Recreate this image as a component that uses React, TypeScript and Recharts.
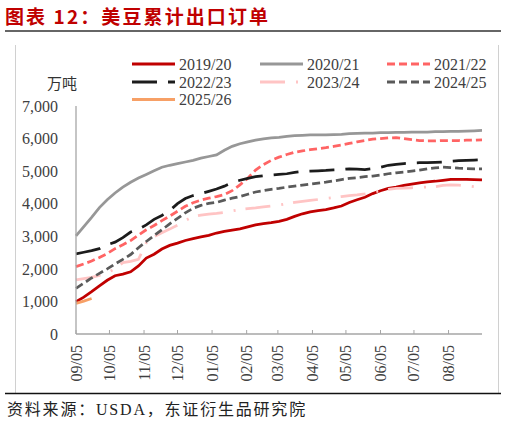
import React from 'react';
import { LineChart, Line, XAxis, YAxis } from 'recharts';

// ---- data ----
const days = [0, 7, 14, 21, 28, 35, 42, 49, 56, 63, 70, 77, 84, 91, 98, 105, 112, 119, 126, 133, 140, 147, 154, 161, 168, 175, 182, 189, 196, 203, 210, 217, 224, 231, 238, 245, 252, 259, 266, 273, 280, 287, 294, 301, 308, 315, 322, 329, 336, 343, 350, 357, 364];
const tickDays = [0, 30, 61, 91, 122, 153, 181, 212, 242, 273, 303, 334];
const tickLabels = ['09/05', '10/05', '11/05', '12/05', '01/05', '02/05', '03/05', '04/05', '05/05', '06/05', '07/05', '08/05'];
const yTicks = [0, 1000, 2000, 3000, 4000, 5000, 6000, 7000];

const seriesNames = ['2019/20', '2020/21', '2021/22', '2022/23', '2023/24', '2024/25', '2025/26'];

const v1920 = [990, 1130, 1300, 1480, 1650, 1790, 1840, 1910, 2090, 2330, 2450, 2610, 2720, 2790, 2870, 2930, 2980, 3030, 3100, 3150, 3190, 3230, 3290, 3350, 3390, 3420, 3460, 3520, 3610, 3690, 3750, 3790, 3820, 3870, 3930, 4040, 4120, 4200, 4310, 4400, 4470, 4510, 4560, 4600, 4640, 4670, 4690, 4720, 4750, 4750, 4750, 4740, 4730];
const v2021 = [3010, 3300, 3580, 3880, 4120, 4330, 4510, 4660, 4790, 4900, 5010, 5120, 5180, 5230, 5280, 5330, 5400, 5450, 5500, 5640, 5760, 5840, 5900, 5950, 5990, 6020, 6040, 6070, 6090, 6100, 6110, 6110, 6110, 6120, 6130, 6150, 6160, 6170, 6170, 6180, 6180, 6190, 6190, 6200, 6200, 6200, 6210, 6210, 6220, 6220, 6230, 6240, 6250];
const v2122 = [2070, 2150, 2240, 2350, 2470, 2620, 2740, 2870, 3040, 3200, 3330, 3480, 3620, 3770, 3920, 4030, 4110, 4170, 4220, 4280, 4400, 4580, 4780, 5030, 5200, 5330, 5430, 5510, 5580, 5620, 5660, 5690, 5720, 5760, 5800, 5850, 5900, 5940, 5980, 6000, 6020, 6030, 6000, 5970, 5940, 5930, 5930, 5940, 5940, 5940, 5950, 5950, 5960];
const v2223 = [2460, 2510, 2560, 2620, 2740, 2820, 2960, 3130, 3220, 3350, 3520, 3640, 3790, 4000, 4160, 4250, 4310, 4380, 4450, 4540, 4650, 4720, 4780, 4830, 4860, 4880, 4900, 4920, 4960, 4990, 5000, 5010, 5020, 5040, 5050, 5070, 5060, 5050, 5080, 5120, 5180, 5210, 5230, 5250, 5260, 5260, 5270, 5280, 5300, 5320, 5330, 5340, 5350];
const v2324 = [1660, 1700, 1740, 1800, 1880, 2000, 2190, 2230, 2290, 2800, 2990, 3110, 3220, 3340, 3480, 3610, 3650, 3680, 3700, 3730, 3780, 3820, 3850, 3870, 3900, 3930, 3960, 4000, 4040, 4070, 4100, 4130, 4160, 4190, 4220, 4250, 4270, 4300, 4350, 4400, 4440, 4470, 4480, 4490, 4500, 4510, 4520, 4560, 4580, 4570, 4550, 4520, 4500];
const v2425 = [1400, 1560, 1720, 1860, 2000, 2150, 2290, 2440, 2650, 2840, 3020, 3200, 3380, 3550, 3720, 3860, 3950, 4010, 4040, 4110, 4170, 4220, 4290, 4360, 4400, 4440, 4470, 4510, 4540, 4570, 4600, 4630, 4660, 4700, 4740, 4780, 4800, 4830, 4850, 4880, 4920, 4950, 4970, 5000, 5030, 5070, 5100, 5120, 5110, 5090, 5080, 5070, 5070];
const v2526 = [940, 1010, 1090];

const seriesValues = [v1920, v2021, v2122, v2223, v2324, v2425, v2526];

// ---- styles ----
const seriesStyle = [
  { color: '#C00000', dash: undefined as string | undefined },
  { color: '#979797', dash: undefined },
  { color: '#FF6464', dash: '8 4' },
  { color: '#1C1C1C', dash: '25 11' },
  { color: '#FFC4C4', dash: '25 11 2 10' },
  { color: '#5A5A5A', dash: '8 4' },
  { color: '#F7A066', dash: undefined },
];

const tableData = days.map((d, i) => {
  const row: Record<string, number | undefined> = { day: d };
  seriesNames.forEach((name, s) => {
    row[name] = seriesValues[s][i];
  });
  return row;
});

const SERIF = '"Liberation Serif", "Noto Sans CJK SC", serif';
const CJK = '"Liberation Serif", "Noto Sans CJK SC", sans-serif';
const AXIS_COLOR = '#A6A6A6';
const TEXT_COLOR = '#404040';

const XTick = (props: any) => {
  const { x, y, payload } = props;
  const idx = tickDays.indexOf(payload.value);
  const label = idx >= 0 ? tickLabels[idx] : '';
  const ty = y + 11;
  return (
    <g>
      <line x1={x} x2={x} y1={y} y2={y - 4} stroke={AXIS_COLOR} strokeWidth={1} />
      <text
        x={x}
        y={ty}
        transform={`rotate(-90 ${x} ${ty})`}
        textAnchor="end"
        dominantBaseline="central"
        fontSize={16}
        fontFamily={SERIF}
        fill={TEXT_COLOR}
      >
        {label}
      </text>
    </g>
  );
};

const legendCols = [132, 260, 387];
const legendRows = [64, 82, 99.5];

export default function App() {
  return (
    <div style={{ position: 'fixed', left: 0, top: 0, width: 506, height: 424, background: '#fff', overflow: 'hidden' }}>
      <svg width={506} height={424} style={{ position: 'absolute', left: 0, top: 0 }}>
        <text x={5} y={15} dominantBaseline="central" fontSize={19} fontWeight={700} letterSpacing={2.1} fill="#C00000" fontFamily='"Noto Sans CJK SC", sans-serif'>
          图表 12：美豆累计出口订单
        </text>
        <line x1={5} x2={501} y1={31} y2={31} stroke="#333" strokeWidth={1.3} />
        <line x1={15.5} x2={15.5} y1={45} y2={393} stroke="#D0D0D0" strokeWidth={1} />
        <line x1={498.5} x2={498.5} y1={45} y2={393} stroke="#D0D0D0" strokeWidth={1} />
        <line x1={5} x2={501} y1={393.5} y2={393.5} stroke="#111" strokeWidth={1.3} />
        <text x={7} y={409} dominantBaseline="central" fontSize={16} letterSpacing={1.8} fill="#222" fontFamily={CJK}>
          资料来源：USDA，东证衍生品研究院
        </text>
        <text x={62} y={82} textAnchor="middle" dominantBaseline="central" fontSize={15} fill="#333" fontFamily='"Noto Sans CJK SC", sans-serif'>
          万吨
        </text>
        {seriesNames.map((name, i) => {
          const cx = legendCols[i % 3];
          const cy = legendRows[Math.floor(i / 3)];
          const st = seriesStyle[i];
          return (
            <g key={name}>
              <line x1={cx} x2={cx + 43} y1={cy} y2={cy} stroke={st.color} strokeWidth={3} strokeDasharray={st.dash} />
              <text x={cx + 47} y={cy} dominantBaseline="central" fontSize={16} fill={TEXT_COLOR} fontFamily={SERIF}>
                {name}
              </text>
            </g>
          );
        })}
      </svg>
      <div style={{ position: 'absolute', left: 0, top: 0 }}>
        <LineChart width={506} height={424} data={tableData} margin={{ top: 106, right: 24, bottom: 0, left: 0 }}>
          <XAxis
            dataKey="day"
            type="number"
            domain={[0, 364]}
            ticks={tickDays}
            interval={0}
            height={90}
            tickLine={false}
            tickSize={0}
            tickMargin={0}
            axisLine={{ stroke: AXIS_COLOR, strokeWidth: 1.3 }}
            tick={<XTick />}
          />
          <YAxis
            type="number"
            domain={[0, 7000]}
            ticks={yTicks}
            interval={0}
            width={76}
            tickLine={false}
            tickSize={6}
            tickMargin={12}
            axisLine={{ stroke: AXIS_COLOR, strokeWidth: 1.3 }}
            tickFormatter={(v: number) => v.toLocaleString('en-US')}
            tick={{ fontSize: 16, fontFamily: SERIF, fill: TEXT_COLOR }}
          />
          {seriesNames.map((name, i) => (
            <Line
              key={name}
              dataKey={name}
              type="linear"
              stroke={seriesStyle[i].color}
              strokeWidth={2.75}
              strokeDasharray={seriesStyle[i].dash}
              dot={false}
              activeDot={false}
              isAnimationActive={false}
              connectNulls={false}
            />
          ))}
        </LineChart>
      </div>
    </div>
  );
}
